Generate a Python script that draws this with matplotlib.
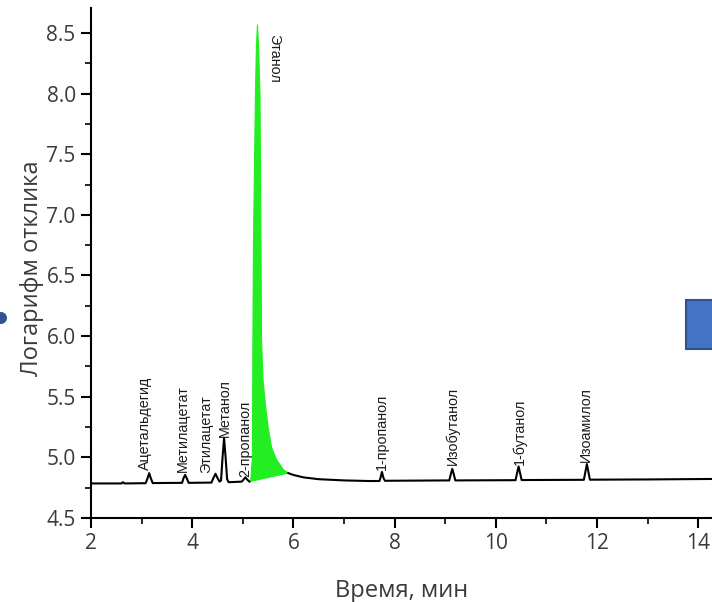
import numpy as np
import matplotlib
matplotlib.use("Agg")
import matplotlib.pyplot as plt
from matplotlib.patches import Rectangle, Ellipse
from matplotlib.ticker import MultipleLocator

# chromatogram: time (min) and log response
time_before = [2.00, 2.60, 2.63, 2.66, 3.08, 3.12, 3.15, 3.18, 3.22, 3.80, 3.83, 3.86, 3.89, 3.93,
               4.38, 4.42, 4.46, 4.50, 4.54, 4.57, 4.60, 4.63, 4.66, 4.69, 4.72, 4.98, 5.02, 5.05,
               5.08, 5.13]
resp_before = [4.785, 4.785, 4.795, 4.785, 4.787, 4.83, 4.87, 4.83, 4.788, 4.79, 4.83, 4.855, 4.83, 4.79,
               4.792, 4.83, 4.865, 4.83, 4.80, 4.81, 5.00, 5.16, 5.00, 4.82, 4.795, 4.80, 4.82, 4.835,
               4.82, 4.80]

# ethanol peak (filled green)
time_eth = [5.13, 5.16, 5.19, 5.20, 5.21, 5.23, 5.25, 5.27, 5.29, 5.31, 5.34, 5.35, 5.36, 5.37,
            5.40, 5.45, 5.50, 5.57, 5.67, 5.80, 5.90]
resp_eth = [4.80, 4.82, 5.00, 6.00, 6.73, 7.37, 8.00, 8.40, 8.57, 8.40, 8.00, 7.37, 6.73, 5.97,
            5.64, 5.42, 5.25, 5.08, 4.98, 4.90, 4.87]

time_after = [5.90, 6.00, 6.20, 6.50, 7.00, 7.50, 7.70, 7.72, 7.75, 7.78, 7.81, 9.08, 9.11, 9.14,
              9.17, 9.20, 10.39, 10.42, 10.45, 10.48, 10.51, 11.74, 11.77, 11.80, 11.83, 11.86,
              13.00, 14.30]
resp_after = [4.87, 4.855, 4.835, 4.82, 4.81, 4.805, 4.805, 4.83, 4.88, 4.83, 4.807, 4.81, 4.86, 4.905,
              4.86, 4.81, 4.812, 4.87, 4.925, 4.87, 4.813, 4.815, 4.88, 4.945, 4.88, 4.816,
              4.818, 4.822]

# compound labels: name, time, bottom of label
names = ["Ацетальдегид", "Метилацетат", "Этилацетат", "Метанол", "2-пропанол",
         "1-пропанол", "Изобутанол", "1-бутанол", "Изоамилол"]
label_t = [3.07, 3.82, 4.28, 4.65, 5.05, 7.75, 9.14, 10.48, 11.79]
label_y = [4.895, 4.88, 4.87, 5.17, 4.84, 4.895, 4.935, 4.94, 4.96]

W, H = 712, 602
fig = plt.figure(figsize=(W / 100, H / 100), dpi=100)
ax = fig.add_axes([91 / W, 84 / H, 621 / W, 510 / H])

ax.plot(time_before, resp_before, color="black", lw=1.5)
ax.plot(time_after, resp_after, color="black", lw=1.5)
ax.fill(time_eth, resp_eth, color="#22ee22", lw=0.8, ec="#22ee22")

for n, t, y in zip(names, label_t, label_y):
    ax.text(t, y, n, rotation=90, ha="center", va="bottom", fontsize=10.3,
            family="Liberation Sans", color="#1a1a1a")
ax.text(5.62, 8.49, "Этанол", rotation=270, ha="center", va="top", fontsize=10.3,
        family="Liberation Sans", color="#1a1a1a")

ax.set_xlim(2, 2 + 621 / 50.6)
ax.set_ylim(4.5, 4.5 + 510 / 121.25)
ax.xaxis.set_major_locator(MultipleLocator(2))
ax.xaxis.set_minor_locator(MultipleLocator(1))
ax.yaxis.set_major_locator(MultipleLocator(0.5))
ax.yaxis.set_minor_locator(MultipleLocator(0.25))
ax.yaxis.set_major_formatter(matplotlib.ticker.FormatStrFormatter("%.1f"))

for s in ["top", "right"]:
    ax.spines[s].set_visible(False)
for s in ["left", "bottom"]:
    ax.spines[s].set_linewidth(1.5)

ax.tick_params(which="major", direction="out", length=7, width=1.5, labelsize=15,
               labelcolor="#3a3a3a", pad=4)
ax.tick_params(which="minor", direction="out", length=4, width=1.2)
for lab in ax.get_xticklabels() + ax.get_yticklabels():
    lab.set_family("Open Sans")

ax.set_xlabel("Время, мин", fontsize=17, family="Open Sans", color="#3a3a3a", labelpad=18)
ax.set_ylabel("Логарифм отклика", fontsize=17, family="Open Sans", color="#3a3a3a")
ax.yaxis.set_label_coords(-47 / 621, 0.49)

# slide decorations around the chart
fig.patches.append(Rectangle((686 / W, (H - 349) / H), 40 / W, 49 / H, transform=fig.transFigure,
                             fc="#4472c4", ec="#2f528f", lw=1.5, figure=fig))
fig.patches.append(Ellipse((1 / W, (H - 318) / H), 12 / W, 12 / H, transform=fig.transFigure,
                           fc="#2f5597", ec="none", figure=fig))

fig.savefig("out.png", dpi=100)
